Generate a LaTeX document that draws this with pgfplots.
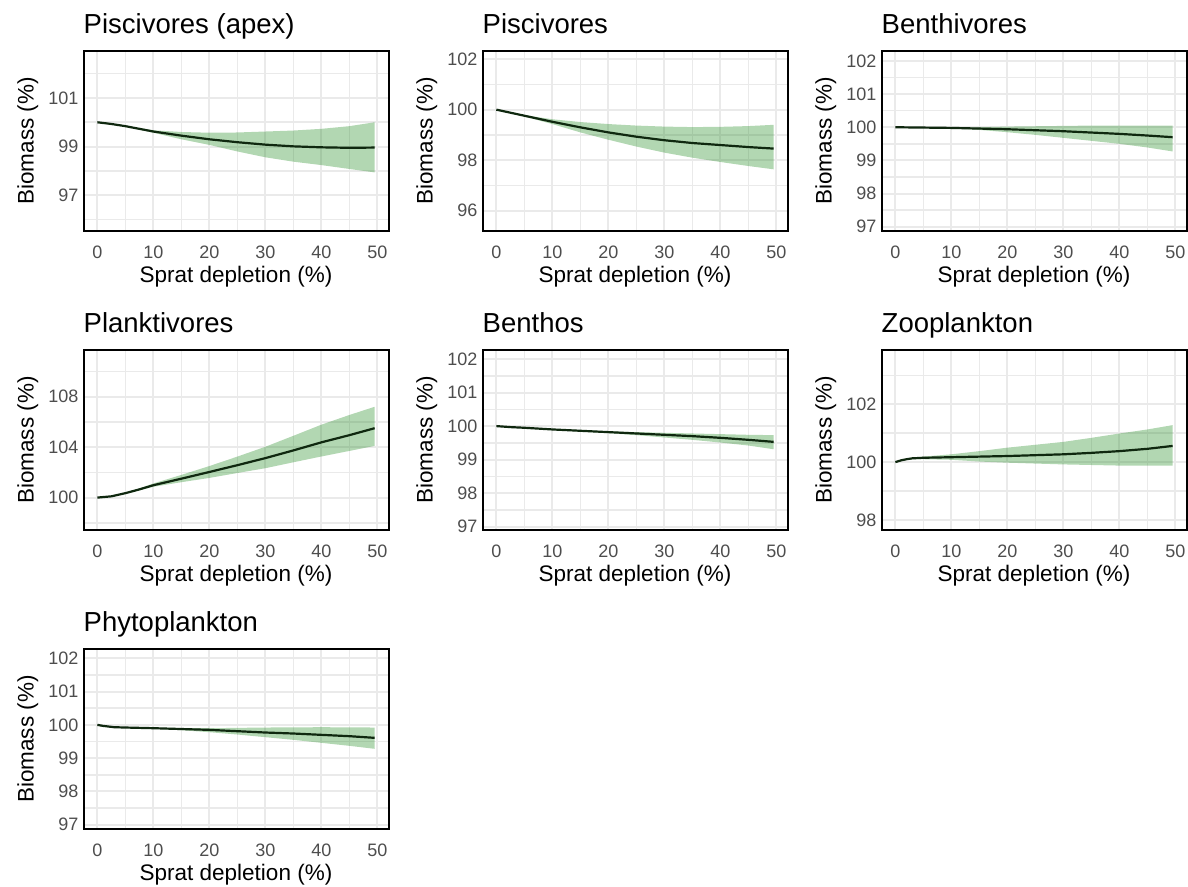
\documentclass[border=0pt]{standalone}
\usepackage{fontspec}
\setmainfont{Liberation Sans}
\usepackage{pgfplots}
\pgfplotsset{compat=1.18}
\usepackage{pgfplotstable}
\usepgfplotslibrary{fillbetween}
\definecolor{gridcol}{HTML}{EAEAEA}
\definecolor{tickcol}{HTML}{4D4D4D}
\definecolor{ribbon}{RGB}{34,139,34}
\definecolor{linecol}{RGB}{15,40,15}

\pgfplotstableread{
x mid lo hi
0 100 100 100
2.5 99.93 99.92 99.94
5 99.84 99.82 99.86
7.5 99.73 99.70 99.76
10 99.62 99.57 99.67
15 99.45 99.30 99.60
20 99.30 99.07 99.57
25 99.18 98.80 99.58
30 99.08 98.56 99.62
35 99.01 98.38 99.66
40 98.97 98.24 99.73
45 98.95 98.08 99.84
49.5 98.96 97.94 100.0
}\tA
\pgfplotstableread{
x mid lo hi
0 100 100 100
2.5 99.88 99.87 99.89
5 99.76 99.73 99.79
7.5 99.64 99.58 99.70
10 99.52 99.43 99.62
15 99.30 99.10 99.51
20 99.10 98.81 99.43
25 98.93 98.54 99.37
30 98.79 98.30 99.33
35 98.68 98.10 99.31
40 98.60 97.93 99.32
45 98.52 97.77 99.35
49.5 98.46 97.64 99.40
}\tB
\pgfplotstableread{
x mid lo hi
0 100 100 100
5 99.99 99.99 99.99
10 99.98 99.97 99.99
15 99.96 99.92 100.0
20 99.94 99.85 100.02
25 99.91 99.77 100.03
30 99.88 99.68 100.04
35 99.84 99.59 100.05
40 99.80 99.50 100.05
45 99.75 99.39 100.05
49.5 99.70 99.27 100.05
}\tC
\pgfplotstableread{
x mid lo hi
0 100 100 100
2.5 100.10 100.08 100.12
5 100.35 100.30 100.40
7.5 100.65 100.57 100.73
10 100.98 100.86 101.12
15 101.50 101.22 101.80
20 102.03 101.56 102.50
25 102.57 101.95 103.25
30 103.13 102.33 104.03
35 103.74 102.80 104.90
40 104.38 103.26 105.78
45 104.95 103.70 106.55
49.5 105.50 104.10 107.20
}\tD
\pgfplotstableread{
x mid lo hi
0 100 100 100
2.5 99.97 99.97 99.97
5 99.95 99.95 99.95
10 99.90 99.89 99.91
15 99.86 99.84 99.88
20 99.82 99.79 99.84
25 99.78 99.73 99.82
30 99.74 99.66 99.80
35 99.70 99.59 99.78
40 99.65 99.51 99.76
45 99.59 99.42 99.74
49.5 99.53 99.31 99.73
}\tE
\pgfplotstableread{
x mid lo hi
0 100 100 100
1 100.06 100.05 100.07
2 100.10 100.08 100.12
3 100.13 100.10 100.15
5 100.15 100.10 100.19
10 100.17 100.08 100.27
15 100.19 100.02 100.38
20 100.21 99.98 100.50
25 100.24 99.95 100.60
30 100.27 99.92 100.70
35 100.32 99.90 100.84
40 100.38 99.88 100.99
45 100.46 99.88 101.13
49.5 100.56 99.88 101.28
}\tF
\pgfplotstableread{
x mid lo hi
0 100 100 100
1 99.97 99.97 99.97
2 99.95 99.95 99.95
3 99.93 99.93 99.93
5 99.92 99.91 99.92
10 99.90 99.89 99.91
15 99.875 99.84 99.905
20 99.85 99.78 99.90
25 99.81 99.71 99.91
30 99.77 99.63 99.92
35 99.74 99.55 99.925
40 99.70 99.46 99.93
45 99.66 99.37 99.925
49.5 99.61 99.28 99.92
}\tG

\pgfplotsset{
 panel/.style={
  scale only axis, width=305pt, height=180pt, anchor=north west,
  xmin=-2.475, xmax=51.975,
  xtick={0,10,...,50}, minor xtick={5,15,...,45},
  grid=both,
  major grid style={draw=gridcol, line width=2pt},
  minor grid style={draw=gridcol, line width=1.6pt},
  major tick length=0pt, minor tick length=0pt,
  axis line style={line width=2pt, black},
  tick label style={font=\fontsize{18}{21}\selectfont, text=tickcol},
  /pgf/number format/assume math mode=true,
  xticklabel style={anchor=base, yshift=-27pt},
  yticklabel style={anchor=east, inner sep=0pt, xshift=-5pt},
  title style={font=\fontsize{27.5}{32}\selectfont, anchor=base west, at={(0,1)}, yshift=12pt, inner sep=0pt},
  xlabel={Sprat depletion (\%)}, ylabel={Biomass (\%)},
  label style={font=\fontsize{22.5}{27}\selectfont},
  xlabel style={at={(0.5,0)}, anchor=base, yshift=-51.5pt, inner sep=0pt},
  ylabel style={at={(0,0.5)}, anchor=base, yshift=50pt, inner sep=0pt},
 },
 ribstyle/.style={fill=ribbon, fill opacity=0.35, draw=none},
 midstyle/.style={color=linecol, line width=2.2pt},
}

\begin{document}
\begin{tikzpicture}

\begin{axis}[panel, at={(83.5pt,-51pt)}, ymin=95.53, ymax=102.93,
  ytick={97,99,101}, minor ytick={96,98,100,102}, title={Piscivores (apex)}]
\addplot[name path=hi, draw=none] table[x=x,y=hi]{\tA};
\addplot[name path=lo, draw=none] table[x=x,y=lo]{\tA};
\addplot[ribstyle] fill between[of=hi and lo];
\addplot[midstyle] table[x=x,y=mid]{\tA};
\end{axis}

\begin{axis}[panel, at={(482.5pt,-51pt)}, ymin=95.2, ymax=102.32,
  ytick={96,98,100,102}, minor ytick={97,99,101}, title={Piscivores}]
\addplot[name path=hi, draw=none] table[x=x,y=hi]{\tB};
\addplot[name path=lo, draw=none] table[x=x,y=lo]{\tB};
\addplot[ribstyle] fill between[of=hi and lo];
\addplot[midstyle] table[x=x,y=mid]{\tB};
\end{axis}

\begin{axis}[panel, at={(881.5pt,-51pt)}, ymin=96.87, ymax=102.3,
  ytick={97,98,99,100,101,102}, minor ytick={97.5,98.5,99.5,100.5,101.5}, title={Benthivores}]
\addplot[name path=hi, draw=none] table[x=x,y=hi]{\tC};
\addplot[name path=lo, draw=none] table[x=x,y=lo]{\tC};
\addplot[ribstyle] fill between[of=hi and lo];
\addplot[midstyle] table[x=x,y=mid]{\tC};
\end{axis}

\begin{axis}[panel, at={(83.5pt,-350pt)}, ymin=97.43, ymax=111.7,
  ytick={100,104,108}, minor ytick={98,102,106,110}, title={Planktivores}]
\addplot[name path=hi, draw=none] table[x=x,y=hi]{\tD};
\addplot[name path=lo, draw=none] table[x=x,y=lo]{\tD};
\addplot[ribstyle] fill between[of=hi and lo];
\addplot[midstyle] table[x=x,y=mid]{\tD};
\end{axis}

\begin{axis}[panel, at={(482.5pt,-350pt)}, ymin=96.9, ymax=102.27,
  ytick={97,98,99,100,101,102}, minor ytick={97.5,98.5,99.5,100.5,101.5}, title={Benthos}]
\addplot[name path=hi, draw=none] table[x=x,y=hi]{\tE};
\addplot[name path=lo, draw=none] table[x=x,y=lo]{\tE};
\addplot[ribstyle] fill between[of=hi and lo];
\addplot[midstyle] table[x=x,y=mid]{\tE};
\end{axis}

\begin{axis}[panel, at={(881.5pt,-350pt)}, ymin=97.65, ymax=103.88,
  ytick={98,100,102}, minor ytick={99,101,103}, title={Zooplankton}]
\addplot[name path=hi, draw=none] table[x=x,y=hi]{\tF};
\addplot[name path=lo, draw=none] table[x=x,y=lo]{\tF};
\addplot[ribstyle] fill between[of=hi and lo];
\addplot[midstyle] table[x=x,y=mid]{\tF};
\end{axis}

\begin{axis}[panel, at={(83.5pt,-649pt)}, ymin=96.87, ymax=102.28,
  ytick={97,98,99,100,101,102}, minor ytick={97.5,98.5,99.5,100.5,101.5}, title={Phytoplankton}]
\addplot[name path=hi, draw=none] table[x=x,y=hi]{\tG};
\addplot[name path=lo, draw=none] table[x=x,y=lo]{\tG};
\addplot[ribstyle] fill between[of=hi and lo];
\addplot[midstyle] table[x=x,y=mid]{\tG};
\end{axis}

\pgfresetboundingbox
\path[use as bounding box] (0pt,0pt) rectangle (1188pt,-886pt);
\end{tikzpicture}
\end{document}
